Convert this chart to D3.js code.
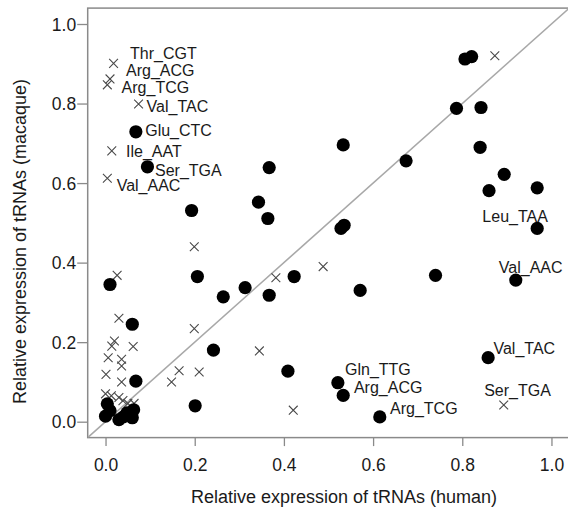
<!DOCTYPE html>
<html>
<head>
<meta charset="utf-8">
<script src="https://cdn.jsdelivr.net/npm/d3@7"></script>
<style>
  body { margin: 0; background: #fff; }
  text { font-family: "Liberation Sans", Arial, Helvetica, sans-serif; fill: #1a1a1a; }
</style>
</head>
<body>
<div id="chart-container"></div>
<script>
// tRNA expression, human vs macaque

// filled circles (human, macaque)
const circleHuman = [0.068, 0.094, 0.193, 0.367, 0.343, 0.364, 0.806, 0.821, 0.787, 0.842,
  0.533, 0.840, 0.674, 0.894, 0.860, 0.968, 0.968, 0.528, 0.535, 0.010,
  0.206, 0.264, 0.313, 0.367, 0.060, 0.068, 0.242, 0.201, 0.409, 0.423,
  0.740, 0.571, 0.920, 0.858, 0.521, 0.533, 0.615, 0.004, 0.000, 0.010,
  0.030, 0.048, 0.060, 0.063, 0.040];
const circleMacaque = [0.729, 0.641, 0.531, 0.639, 0.552, 0.511, 0.912, 0.918, 0.788, 0.790,
  0.696, 0.690, 0.656, 0.622, 0.581, 0.588, 0.486, 0.486, 0.494, 0.345,
  0.365, 0.314, 0.337, 0.318, 0.245, 0.102, 0.180, 0.040, 0.127, 0.365,
  0.368, 0.330, 0.356, 0.161, 0.098, 0.066, 0.012, 0.045, 0.014, 0.028,
  0.005, 0.022, 0.010, 0.030, 0.012];

// crosses (human, macaque)
const crossHuman = [0.018, 0.010, 0.004, 0.074, 0.014, 0.004, 0.199, 0.873, 0.026, 0.382,
  0.488, 0.030, 0.020, 0.014, 0.062, 0.006, 0.036, 0.036, 0.001, 0.036,
  0.199, 0.345, 0.148, 0.165, 0.210, 0.421, 0.893, 0.000, 0.013, 0.030,
  0.039, 0.050, 0.064];
const crossMacaque = [0.901, 0.862, 0.847, 0.799, 0.681, 0.612, 0.440, 0.920, 0.368, 0.362,
  0.390, 0.260, 0.203, 0.190, 0.189, 0.161, 0.157, 0.140, 0.119, 0.100,
  0.234, 0.178, 0.100, 0.128, 0.125, 0.029, 0.042, 0.070, 0.065, 0.061,
  0.053, 0.046, 0.046];

// point labels, anchored at their left edge (data units)
const labelText = ['Thr_CGT', 'Arg_ACG', 'Arg_TCG', 'Val_TAC', 'Glu_CTC', 'Ile_AAT', 'Ser_TGA', 'Val_AAC',
  'Leu_TAA', 'Val_AAC', 'Val_TAC', 'Gln_TTG', 'Arg_ACG', 'Arg_TCG', 'Ser_TGA'];
const labelX = [0.055, 0.046, 0.036, 0.092, 0.089, 0.046, 0.111, 0.025,
  0.845, 0.882, 0.870, 0.537, 0.557, 0.638, 0.849];
const labelY = [0.926, 0.884, 0.841, 0.794, 0.733, 0.679, 0.633, 0.595,
  0.517, 0.387, 0.184, 0.132, 0.087, 0.033, 0.079];

const tickValues = [0, 0.2, 0.4, 0.6, 0.8, 1.0];
const xTitle = 'Relative expression of tRNAs (human)';
const yTitle = 'Relative expression of tRNAs (macaque)';

const svgWidth = 568;
const svgHeight = 511;
const plot = {left: 87.7, right: 569.3, top: 8.1, bottom: 437.6};

const svg = d3.select('#chart-container')
  .append('svg')
  .attr('width', svgWidth)
  .attr('height', svgHeight);

const xScale = d3.scaleLinear().domain([-0.04, 1.04]).range([plot.left, plot.right]);
const yScale = d3.scaleLinear().domain([-0.04, 1.04]).range([plot.bottom, plot.top]);

svg.append('clipPath').attr('id', 'clip')
  .append('rect')
  .attr('x', plot.left).attr('y', plot.top)
  .attr('width', plot.right - plot.left).attr('height', plot.bottom - plot.top);

// axes
const xAxis = svg.append('g')
  .attr('transform', `translate(0,${plot.bottom})`)
  .call(d3.axisBottom(xScale).tickValues(tickValues).tickFormat(d3.format('.1f')).tickSize(8.5).tickSizeOuter(0));
xAxis.select('.domain').remove();
xAxis.selectAll('line').attr('stroke', '#8a8a8a').attr('stroke-width', 1.3);
xAxis.selectAll('text')
  .attr('y', 27.5).attr('dy', '0.35em')
  .style('font-size', '17.5px');

const yAxis = svg.append('g')
  .attr('transform', `translate(${plot.left},0)`)
  .call(d3.axisLeft(yScale).tickValues(tickValues).tickFormat(d3.format('.1f')).tickSize(10.5).tickSizeOuter(0));
yAxis.select('.domain').remove();
yAxis.selectAll('line').attr('stroke', '#8a8a8a').attr('stroke-width', 1.3);
yAxis.selectAll('text')
  .attr('x', -11.5).attr('dy', '0.35em')
  .style('font-size', '17.5px');

// plot box
svg.append('rect')
  .attr('x', plot.left).attr('y', plot.top)
  .attr('width', plot.right - plot.left).attr('height', plot.bottom - plot.top)
  .attr('fill', 'none')
  .attr('stroke', '#8a8a8a')
  .attr('stroke-width', 1.5);

const g = svg.append('g').attr('clip-path', 'url(#clip)');

// y = x reference line
g.append('line')
  .attr('x1', xScale(-0.04)).attr('y1', yScale(-0.04))
  .attr('x2', xScale(1.04)).attr('y2', yScale(1.04))
  .attr('stroke', '#a8a8a8')
  .attr('stroke-width', 1.6);

// crosses
const crosses = crossHuman.map((d, i) => ({x: d, y: crossMacaque[i]}));
const s = 4.4;
g.selectAll('path.cross')
  .data(crosses)
  .enter()
  .append('path')
  .attr('class', 'cross')
  .attr('d', d => {
    const cx = xScale(d.x), cy = yScale(d.y);
    return `M${cx - s},${cy - s}L${cx + s},${cy + s}M${cx - s},${cy + s}L${cx + s},${cy - s}`;
  })
  .attr('stroke', '#4a4a4a')
  .attr('stroke-width', 1.1)
  .attr('fill', 'none');

// circles
const circles = circleHuman.map((d, i) => ({x: d, y: circleMacaque[i]}));
g.selectAll('circle')
  .data(circles)
  .enter()
  .append('circle')
  .attr('cx', d => xScale(d.x))
  .attr('cy', d => yScale(d.y))
  .attr('r', 6.6)
  .attr('fill', '#000');

// point labels
const labels = labelText.map((t, i) => ({t: t, x: labelX[i], y: labelY[i]}));
svg.selectAll('text.lab')
  .data(labels)
  .enter()
  .append('text')
  .attr('class', 'lab')
  .attr('x', d => xScale(d.x))
  .attr('y', d => yScale(d.y))
  .attr('dy', '0.35em')
  .style('font-size', '16px')
  .text(d => d.t);

// axis titles
svg.append('text')
  .attr('x', 344)
  .attr('y', 497)
  .attr('dy', '0.35em')
  .attr('text-anchor', 'middle')
  .style('font-size', '18px')
  .text(xTitle);

svg.append('text')
  .attr('transform', 'translate(20,241.5) rotate(-90)')
  .attr('dy', '0.35em')
  .attr('text-anchor', 'middle')
  .style('font-size', '18px')
  .text(yTitle);
</script>
</body>
</html>
